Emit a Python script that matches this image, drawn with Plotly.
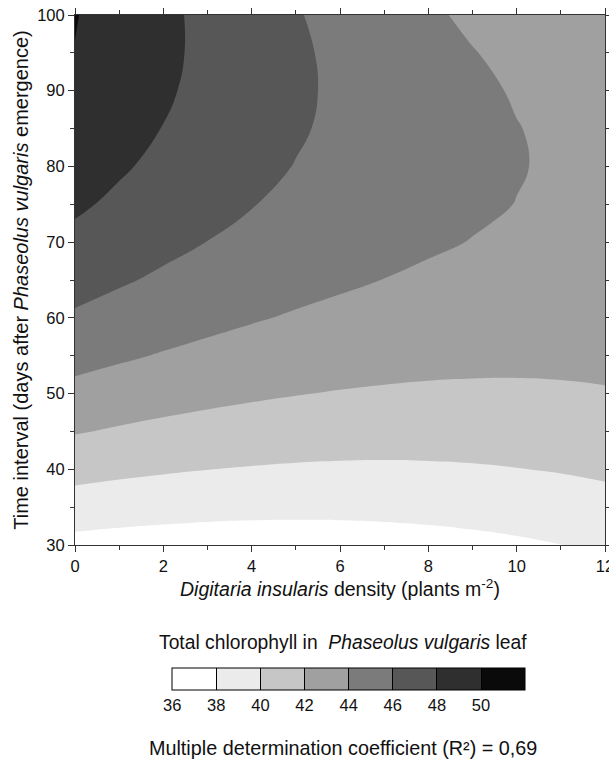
import plotly.graph_objects as go

# Digitaria insularis density (plants m-2)
density = [0, 1, 2, 3, 4, 5, 6, 7, 8, 9, 10, 11, 12]
# Days after Phaseolus vulgaris emergence
days = [30, 35, 40, 45, 50, 55, 60, 65, 70, 75, 80, 85, 90, 95, 100]

# Total chlorophyll in the bean leaf; one row per entry of `days`
chl_d30 = [37.41, 37.25, 37.14, 37.06, 37.03, 37.04, 37.09, 37.19, 37.32, 37.50, 37.72, 37.98, 38.28]
chl_d35 = [39.10, 38.89, 38.73, 38.60, 38.52, 38.48, 38.48, 38.52, 38.60, 38.73, 38.90, 39.11, 39.36]
chl_d40 = [40.67, 40.41, 40.20, 40.02, 39.89, 39.79, 39.74, 39.73, 39.77, 39.84, 39.96, 40.11, 40.31]
chl_d45 = [42.12, 41.81, 41.54, 41.32, 41.13, 40.99, 40.89, 40.83, 40.81, 40.83, 40.90, 41.00, 41.15]
chl_d50 = [43.45, 43.09, 42.77, 42.49, 42.26, 42.06, 41.91, 41.80, 41.73, 41.70, 41.71, 41.77, 41.87]
chl_d55 = [44.66, 44.25, 43.88, 43.55, 43.26, 43.01, 42.81, 42.65, 42.52, 42.45, 42.41, 42.41, 42.46]
chl_d60 = [45.75, 45.28, 44.86, 44.48, 44.14, 43.84, 43.59, 43.37, 43.20, 43.07, 42.98, 42.94, 42.93]
chl_d65 = [46.71, 46.20, 45.72, 45.29, 44.90, 44.55, 44.25, 43.98, 43.76, 43.58, 43.44, 43.34, 43.28]
chl_d70 = [47.56, 46.99, 46.46, 45.98, 45.54, 45.14, 44.78, 44.47, 44.19, 43.96, 43.77, 43.62, 43.51]
chl_d75 = [48.28, 47.66, 47.09, 46.55, 46.06, 45.61, 45.20, 44.83, 44.51, 44.22, 43.98, 43.78, 43.62]
chl_d80 = [48.88, 48.21, 47.58, 47.00, 46.45, 45.95, 45.49, 45.07, 44.70, 44.36, 44.07, 43.82, 43.61]
chl_d85 = [49.36, 48.64, 47.96, 47.33, 46.73, 46.18, 45.67, 45.20, 44.77, 44.38, 44.04, 43.74, 43.47]
chl_d90 = [49.72, 48.95, 48.22, 47.53, 46.88, 46.28, 45.72, 45.20, 44.72, 44.28, 43.89, 43.53, 43.22]
chl_d95 = [49.96, 49.14, 48.35, 47.62, 46.92, 46.26, 45.65, 45.08, 44.55, 44.06, 43.61, 43.21, 42.84]
chl_d100 = [50.08, 49.20, 48.37, 47.58, 46.83, 46.12, 45.46, 44.83, 44.25, 43.71, 43.22, 42.76, 42.35]

chlorophyll = [chl_d30, chl_d35, chl_d40, chl_d45, chl_d50, chl_d55, chl_d60, chl_d65,
               chl_d70, chl_d75, chl_d80, chl_d85, chl_d90, chl_d95, chl_d100]

# Contour levels and the legend scale
level_start, level_end, level_step = 38, 50, 2
scale_min, scale_max = 36, 52
legend_ticks = [36, 38, 40, 42, 44, 46, 48, 50]

# Grey shade for each 2-unit band, lightest to darkest
band_colors = ["#ffffff", "#ebebeb", "#c6c6c6", "#a0a0a0",
               "#7b7b7b", "#575757", "#2f2f2f", "#0a0a0a"]

# Stepped colour scale so every band gets a flat shade
n_bands = len(band_colors)
stepped_scale = []
for i, c in enumerate(band_colors):
    stepped_scale.append([i / n_bands, c])
    stepped_scale.append([(i + 1) / n_bands, c])

FONT = "Liberation Sans, Arial, sans-serif"
AXIS_COLOR = "#333333"
TEXT_COLOR = "#111111"

fig = go.Figure()

# Same surface as a heatmap underneath; it carries the banded colour legend
# (36 to 52) and is fully covered by the filled contours drawn on top.
fig.add_trace(
    go.Heatmap(
        x=density,
        y=days,
        z=chlorophyll,
        zmin=scale_min,
        zmax=scale_max,
        colorscale=stepped_scale,
        hoverinfo="skip",
        showscale=True,
        colorbar=dict(
            orientation="h",
            thickness=22,
            thicknessmode="pixels",
            len=353,
            lenmode="pixels",
            x=0.5163,
            xanchor="center",
            y=-0.2321,
            yanchor="top",
            xpad=0,
            ypad=0,
            outlinewidth=1,
            outlinecolor="black",
            tickvals=legend_ticks,
            ticks="inside",
            ticklen=22,
            tickwidth=1,
            tickcolor="black",
            tickfont=dict(family=FONT, size=16.5, color=TEXT_COLOR),
        ),
    )
)

# Filled response surface
fig.add_trace(
    go.Contour(
        x=density,
        y=days,
        z=chlorophyll,
        contours=dict(start=level_start, end=level_end, size=level_step,
                      coloring="fill", showlines=False),
        line=dict(width=0, smoothing=1.3),
        colorscale=stepped_scale,
        showscale=False,
        hoverinfo="skip",
    )
)

axis_common = dict(
    automargin=False,
    showline=True,
    linecolor=AXIS_COLOR,
    linewidth=1,
    mirror="ticks",
    ticks="outside",
    ticklen=6,
    tickwidth=1,
    tickcolor=AXIS_COLOR,
    showgrid=False,
    zeroline=False,
    ticklabeloverflow="allow",
    tickfont=dict(family=FONT, size=16.5, color=TEXT_COLOR),
)

fig.update_xaxes(
    range=[0, 12],
    dtick=2,
    minor=dict(dtick=1, ticks="outside", ticklen=4, tickwidth=1, tickcolor=AXIS_COLOR),
    title=dict(
        text="<i>Digitaria insularis</i> density (plants m<sup>-2</sup>)",
        font=dict(family=FONT, size=19.5, color=TEXT_COLOR),
        standoff=8,
    ),
    **axis_common,
)
fig.update_yaxes(
    range=[30, 100],
    dtick=10,
    minor=dict(dtick=5, ticks="outside", ticklen=4, tickwidth=1, tickcolor=AXIS_COLOR),
    title=dict(
        text="Time interval (days after <i>Phaseolus vulgaris</i> emergence)",
        font=dict(family=FONT, size=20, color=TEXT_COLOR),
        standoff=3,
    ),
    **axis_common,
)

fig.update_layout(
    width=609,
    height=760,
    margin=dict(l=75, r=4, t=15, b=215, autoexpand=False),
    paper_bgcolor="white",
    plot_bgcolor="white",
    font=dict(family=FONT, color=TEXT_COLOR),
    showlegend=False,
    annotations=[
        dict(
            text="Total chlorophyll in  <i>Phaseolus vulgaris</i> leaf",
            xref="paper", yref="paper",
            x=0.5066, y=-0.1849,
            xanchor="center", yanchor="middle",
            showarrow=False,
            font=dict(family=FONT, size=19.3, color=TEXT_COLOR),
        ),
        dict(
            text="Multiple determination coefficient (R²) = 0,69",
            xref="paper", yref="paper",
            x=0.505, y=-0.383,
            xanchor="center", yanchor="middle",
            showarrow=False,
            font=dict(family=FONT, size=19.8, color=TEXT_COLOR),
        ),
    ],
)

fig.write_html("out.html")
